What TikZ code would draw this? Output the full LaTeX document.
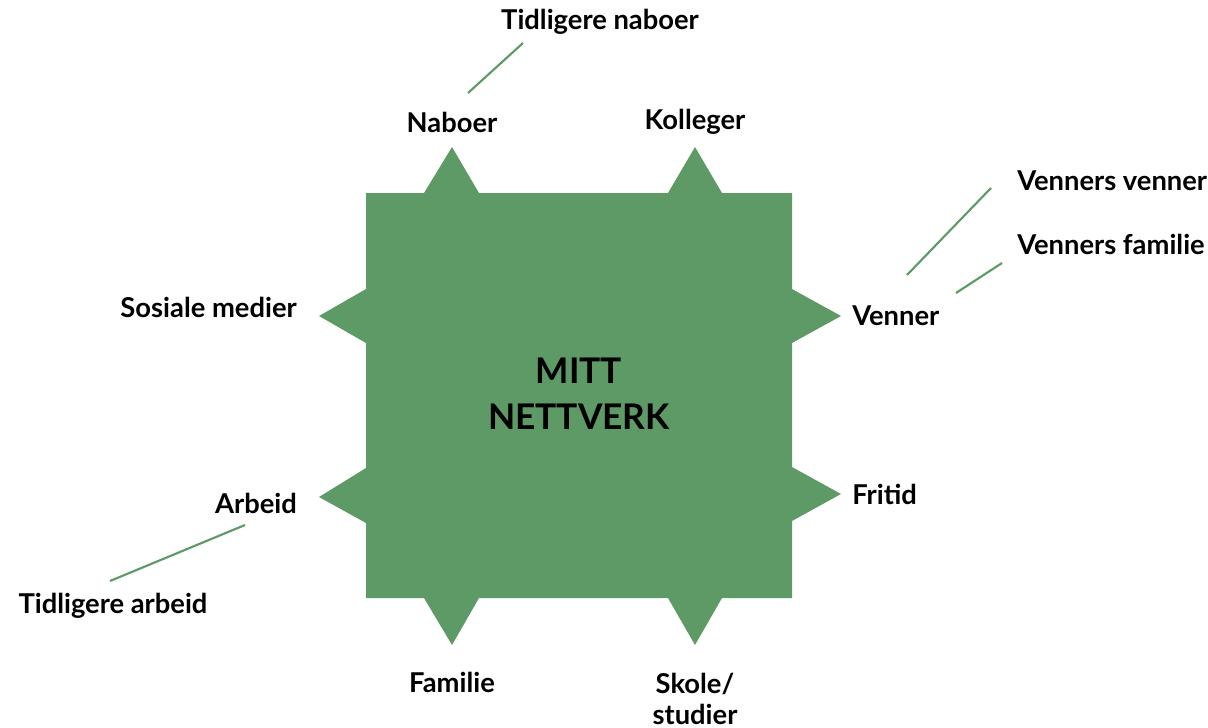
\documentclass[tikz,border=0pt]{standalone}
\usepackage{fontspec}
\setmainfont{Lato}
\usepackage{tikz}
\usetikzlibrary{positioning}
\definecolor{netgreen}{HTML}{5D9A66}
\tikzset{
  lbl/.style={font=\fontsize{20.5}{23}\selectfont\bfseries, inner sep=0pt, align=center},
  link/.style={draw=netgreen, line width=1.6pt}
}

\begin{document}
\begin{tikzpicture}[x=0.75pt, y=-0.75pt]
  \useasboundingbox (0,0) rectangle (1208,728);

  % Star-shaped block
  \fill[netgreen] (366,193) -- (424,193) -- (452,147) -- (479,193) -- (668,193) -- (695,147) -- (722,193)
    -- (792,193) -- (792,289) -- (841,316) -- (792,343) -- (792,467) -- (841,494) -- (792,521)
    -- (792,598) -- (722,598) -- (695,645) -- (668,598) -- (479,598) -- (452,645) -- (424,598)
    -- (366,598) -- (366,523) -- (319,497) -- (366,468) -- (366,343) -- (319,316) -- (366,289) -- cycle;

  \node[lbl, font=\fontsize{26.5}{34.5}\selectfont\bfseries] (centre) at (579,394) {MITT\\NETTVERK};

  % Labels round the block
  \node[lbl] (naboer) at (452,122) {Naboer};
  \node[lbl] (kolleger) at (695,122) {Kolleger};
  \node[lbl] (tidnaboer) at (600,22) {Tidligere naboer};
  \node[lbl, anchor=east] (sosiale) at (297,307) {Sosiale medier};
  \node[lbl] (arbeid) at (256,503) {Arbeid};
  \node[lbl] (tidarbeid) at (113,606) {Tidligere arbeid};
  \node[lbl, anchor=west] (venner) at (852,316) {Venner};
  \node[lbl, anchor=west] (vvenner) at (1017,181) {Venners venner};
  \node[lbl, anchor=west] (vfamilie) at (1017,244) {Venners familie};
  \node[lbl, anchor=west] (fritid) at (852,494) {Fritid};
  \node[lbl] (familie) at (452,682) {Familie};
  \node[lbl] (skole) at (695,699) {Skole/\\studier};

  % Links
  \coordinate (tn1) at (468,93);
  \coordinate (tn2) at (523,43);
  \coordinate (vv1) at (907,275);
  \coordinate (vv2) at (991,188);
  \coordinate (vf1) at (956,293);
  \coordinate (vf2) at (1002,263);
  \coordinate (ta1) at (110,581);
  \coordinate (ta2) at (245,525);
  \draw[link] (tn1) -- (tn2);
  \draw[link] (vv1) -- (vv2);
  \draw[link] (vf1) -- (vf2);
  \draw[link] (ta1) -- (ta2);
\end{tikzpicture}
\end{document}
